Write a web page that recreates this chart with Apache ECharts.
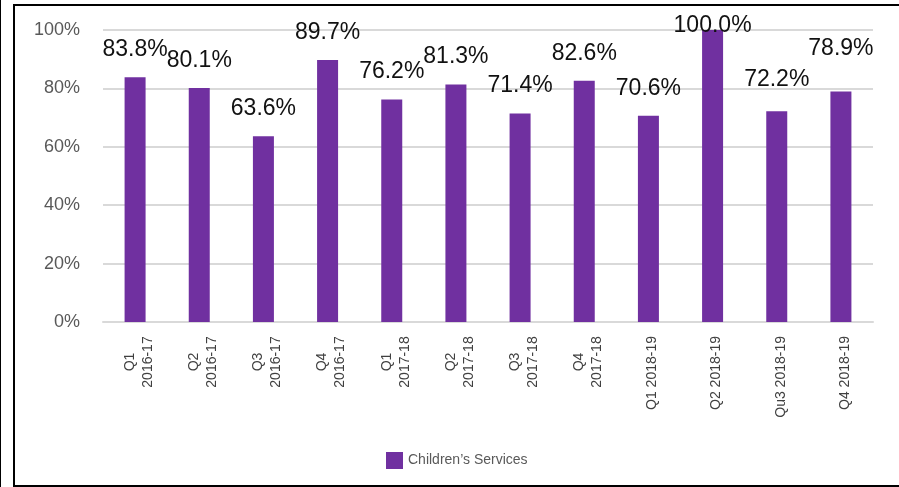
<!DOCTYPE html>
<html>
<head>
<meta charset="utf-8">
<script src="https://cdn.jsdelivr.net/npm/echarts@6/dist/echarts.min.js"></script>
<style>
  html, body { margin: 0; padding: 0; background: #fff; }
  #chart { width: 899px; height: 487px; }
</style>
</head>
<body>
<div id="chart"></div>
<script>
// Quarterly percentages for Children's Services
const categories = [
  'Q1\n2016-17', 'Q2\n2016-17', 'Q3\n2016-17', 'Q4\n2016-17',
  'Q1\n2017-18', 'Q2\n2017-18', 'Q3\n2017-18', 'Q4\n2017-18',
  'Q1 2018-19', 'Q2 2018-19', 'Qu3 2018-19', 'Q4 2018-19'
];
const seriesName = 'Children\u2019s Services';
const values = [83.8, 80.1, 63.6, 89.7, 76.2, 81.3, 71.4, 82.6, 70.6, 100.0, 72.2, 78.9];
const yTicks = [0, 20, 40, 60, 80, 100];

const FONT = '"Liberation Sans", Arial, sans-serif';

// A few value labels sit at their own height above the bar
const labelNudge = { 9: [0, 23], 10: [0, -4], 11: [0, -15] };

const barData = values.map((v, i) => {
  const item = { value: v };
  if (labelNudge[i]) item.label = { offset: labelNudge[i] };
  return item;
});

const chart = echarts.init(document.getElementById('chart'), null, { renderer: 'canvas' });

chart.setOption({
  animation: false,
  backgroundColor: '#ffffff',
  grid: { left: 103, right: 26, top: 30, bottom: 165, containLabel: false },
  legend: {
    data: [seriesName],
    bottom: 18,
    left: 386,
    padding: 0,
    itemWidth: 17,
    itemHeight: 17,
    itemGap: 6,
    icon: 'rect',
    textStyle: { fontFamily: FONT, fontSize: 14, color: '#595959' }
  },
  xAxis: {
    type: 'category',
    data: categories,
    axisLine: { lineStyle: { color: '#d9d9d9', width: 2 } },
    axisTick: { show: false },
    axisLabel: {
      interval: 0,
      rotate: 90,
      margin: 14,
      padding: [8, 0, 0, 0],
      color: '#404040',
      fontFamily: FONT,
      fontSize: 14,
      lineHeight: 18,
      formatter: function (v) {
        const parts = v.split('\n');
        if (parts.length === 1) return '{b|' + v + '}';
        return parts.map(p => '{a|' + p + '}').join('\n');
      },
      rich: {
        a: { width: 52, align: 'center', fontFamily: FONT, fontSize: 14, lineHeight: 18, color: '#404040' },
        b: { fontFamily: FONT, fontSize: 14, lineHeight: 18, color: '#404040' }
      }
    }
  },
  yAxis: {
    type: 'value',
    min: yTicks[0],
    max: yTicks[yTicks.length - 1],
    interval: yTicks[1] - yTicks[0],
    axisLine: { show: false },
    axisTick: { show: false },
    splitLine: { lineStyle: { color: '#d9d9d9', width: 2 } },
    axisLabel: {
      margin: 23,
      color: '#595959',
      fontFamily: FONT,
      fontSize: 18,
      formatter: '{value}%'
    }
  },
  series: [{
    name: seriesName,
    type: 'bar',
    data: barData,
    barWidth: 21,
    itemStyle: { color: '#7030A0' },
    label: {
      show: true,
      position: 'top',
      distance: 16,
      color: '#111111',
      fontFamily: FONT,
      fontSize: 23,
      formatter: p => p.value.toFixed(1) + '%'
    }
  }],
  graphic: [
    {
      type: 'rect',
      silent: true,
      shape: { x: 14, y: 5, width: 900, height: 481 },
      style: { fill: null, stroke: '#000000', lineWidth: 2 }
    },
    {
      type: 'line',
      silent: true,
      shape: { x1: 0.5, y1: 0, x2: 0.5, y2: 487 },
      style: { stroke: '#000000', lineWidth: 1 }
    }
  ]
});
</script>
</body>
</html>
